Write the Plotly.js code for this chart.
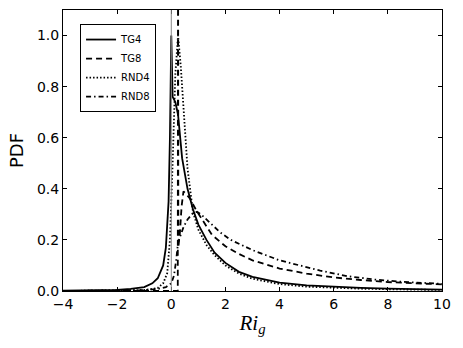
<!DOCTYPE html>
<html>
<head>
<meta charset="utf-8">
<script src="https://cdn.plot.ly/plotly-3.0.1.min.js"></script>
<style>
  html, body { margin: 0; padding: 0; background: #fff; }
  #plot { width: 463px; height: 348px; }
</style>
</head>
<body>
<div id="plot"></div>
<script>
// values
const tg4X = [-4, -3, -2, -1.5, -1, -0.7, -0.5, -0.3, -0.2, -0.1, -0.05, 0, 0.05, 0.15, 0.25, 0.4, 0.6, 0.8, 1.0, 1.3, 1.6, 2, 2.5, 3, 4, 5, 6, 7, 8, 9, 10];
const tg4Y = [0.001, 0.002, 0.004, 0.008, 0.015, 0.03, 0.05, 0.1, 0.17, 0.35, 0.6, 1.0, 0.76, 0.74, 0.69, 0.52, 0.4, 0.32, 0.26, 0.2, 0.15, 0.11, 0.075, 0.055, 0.033, 0.022, 0.016, 0.012, 0.009, 0.007, 0.005];

const tg8X = [-4, 0.24, 0.25, 0.26, 0.32, 0.38, 0.45, 0.55, 0.7, 0.9, 1.2, 1.5, 2, 2.5, 3, 4, 5, 6, 7, 8, 9, 10];
const tg8Y = [0, 0, 1.5, 0.17, 0.23, 0.33, 0.39, 0.38, 0.36, 0.32, 0.27, 0.22, 0.175, 0.145, 0.12, 0.088, 0.068, 0.053, 0.043, 0.035, 0.03, 0.026];

const rnd4X = [-4, -2, -1, -0.5, -0.3, -0.15, -0.05, 0.05, 0.15, 0.25, 0.35, 0.45, 0.6, 0.8, 1.0, 1.3, 1.6, 2, 2.5, 3, 4, 5, 6, 7, 8, 9, 10];
const rnd4Y = [0, 0.001, 0.004, 0.012, 0.03, 0.07, 0.2, 0.5, 0.85, 1.0, 0.88, 0.72, 0.48, 0.31, 0.24, 0.18, 0.14, 0.1, 0.068, 0.048, 0.027, 0.017, 0.012, 0.009, 0.007, 0.005, 0.004];

const rnd8X = [-4, -2, -1, -0.5, -0.2, 0, 0.1, 0.18, 0.25, 0.35, 0.45, 0.6, 0.8, 0.95, 1.1, 1.4, 1.8, 2.2, 2.6, 3, 3.5, 4, 4.75, 5.5, 6.5, 7.5, 8.5, 9.5, 10];
const rnd8Y = [0, 0.001, 0.003, 0.008, 0.015, 0.03, 0.06, 0.12, 0.19, 0.22, 0.25, 0.28, 0.305, 0.31, 0.3, 0.27, 0.23, 0.2, 0.18, 0.16, 0.14, 0.12, 0.1, 0.08, 0.058, 0.045, 0.036, 0.03, 0.028];

const names = ["TG4", "TG8", "RND4", "RND8"];
const zeroLine = 0;

const tickFont = { family: "DejaVu Sans", size: 14, color: "#000" };

function line(x, y, name, dash) {
    return {
        x: x, y: y, name: name,
        type: "scatter", mode: "lines",
        line: { color: "#000", width: 1.8, dash: dash }
    };
}

const traces = [
    line(tg4X, tg4Y, names[0], "solid"),
    line(tg8X, tg8Y, names[1], "6px,4px"),
    line(rnd4X, rnd4Y, names[2], "1.5px,2px"),
    line(rnd8X, rnd8Y, names[3], "5px,3px,1.5px,3px")
];

const layout = {
    width: 463, height: 348,
    margin: { l: 63, r: 21, t: 10, b: 57 },
    paper_bgcolor: "#fff", plot_bgcolor: "#fff",
    showlegend: true,
    legend: {
        x: 0.045, y: 0.95, xanchor: "left", yanchor: "top",
        bordercolor: "#000", borderwidth: 1, bgcolor: "#fff",
        font: { family: "DejaVu Sans", size: 10, color: "#000" },
        itemwidth: 30, tracegroupgap: 0
    },
    xaxis: {
        range: [-4, 10], tickvals: [-4, -2, 0, 2, 4, 6, 8, 10],
        ticktext: ["\u22124", "\u22122", "0", "2", "4", "6", "8", "10"],
        ticks: "inside", ticklen: 4, tickcolor: "#000", mirror: "ticks",
        showline: true, linecolor: "#000", linewidth: 1,
        showgrid: false, zeroline: false, tickfont: tickFont,
        title: { text: "<i>Ri</i><sub><i>g</i></sub>", font: { family: "Liberation Serif", size: 21, color: "#000" }, standoff: 4 }
    },
    yaxis: {
        range: [0, 1.1], tickvals: [0, 0.2, 0.4, 0.6, 0.8, 1.0],
        ticktext: ["0.0", "0.2", "0.4", "0.6", "0.8", "1.0"],
        ticks: "inside", ticklen: 4, tickcolor: "#000", mirror: "ticks",
        showline: true, linecolor: "#000", linewidth: 1,
        showgrid: false, zeroline: false, tickfont: tickFont,
        title: { text: "PDF", font: { family: "DejaVu Sans", size: 18, color: "#000" }, standoff: 8 }
    },
    shapes: [{
        type: "line", xref: "x", yref: "paper",
        x0: zeroLine, x1: zeroLine, y0: 0, y1: 1,
        line: { color: "#888", width: 1 }
    }]
};

Plotly.newPlot("plot", traces, layout, { displayModeBar: false, staticPlot: true });
</script>
</body>
</html>
